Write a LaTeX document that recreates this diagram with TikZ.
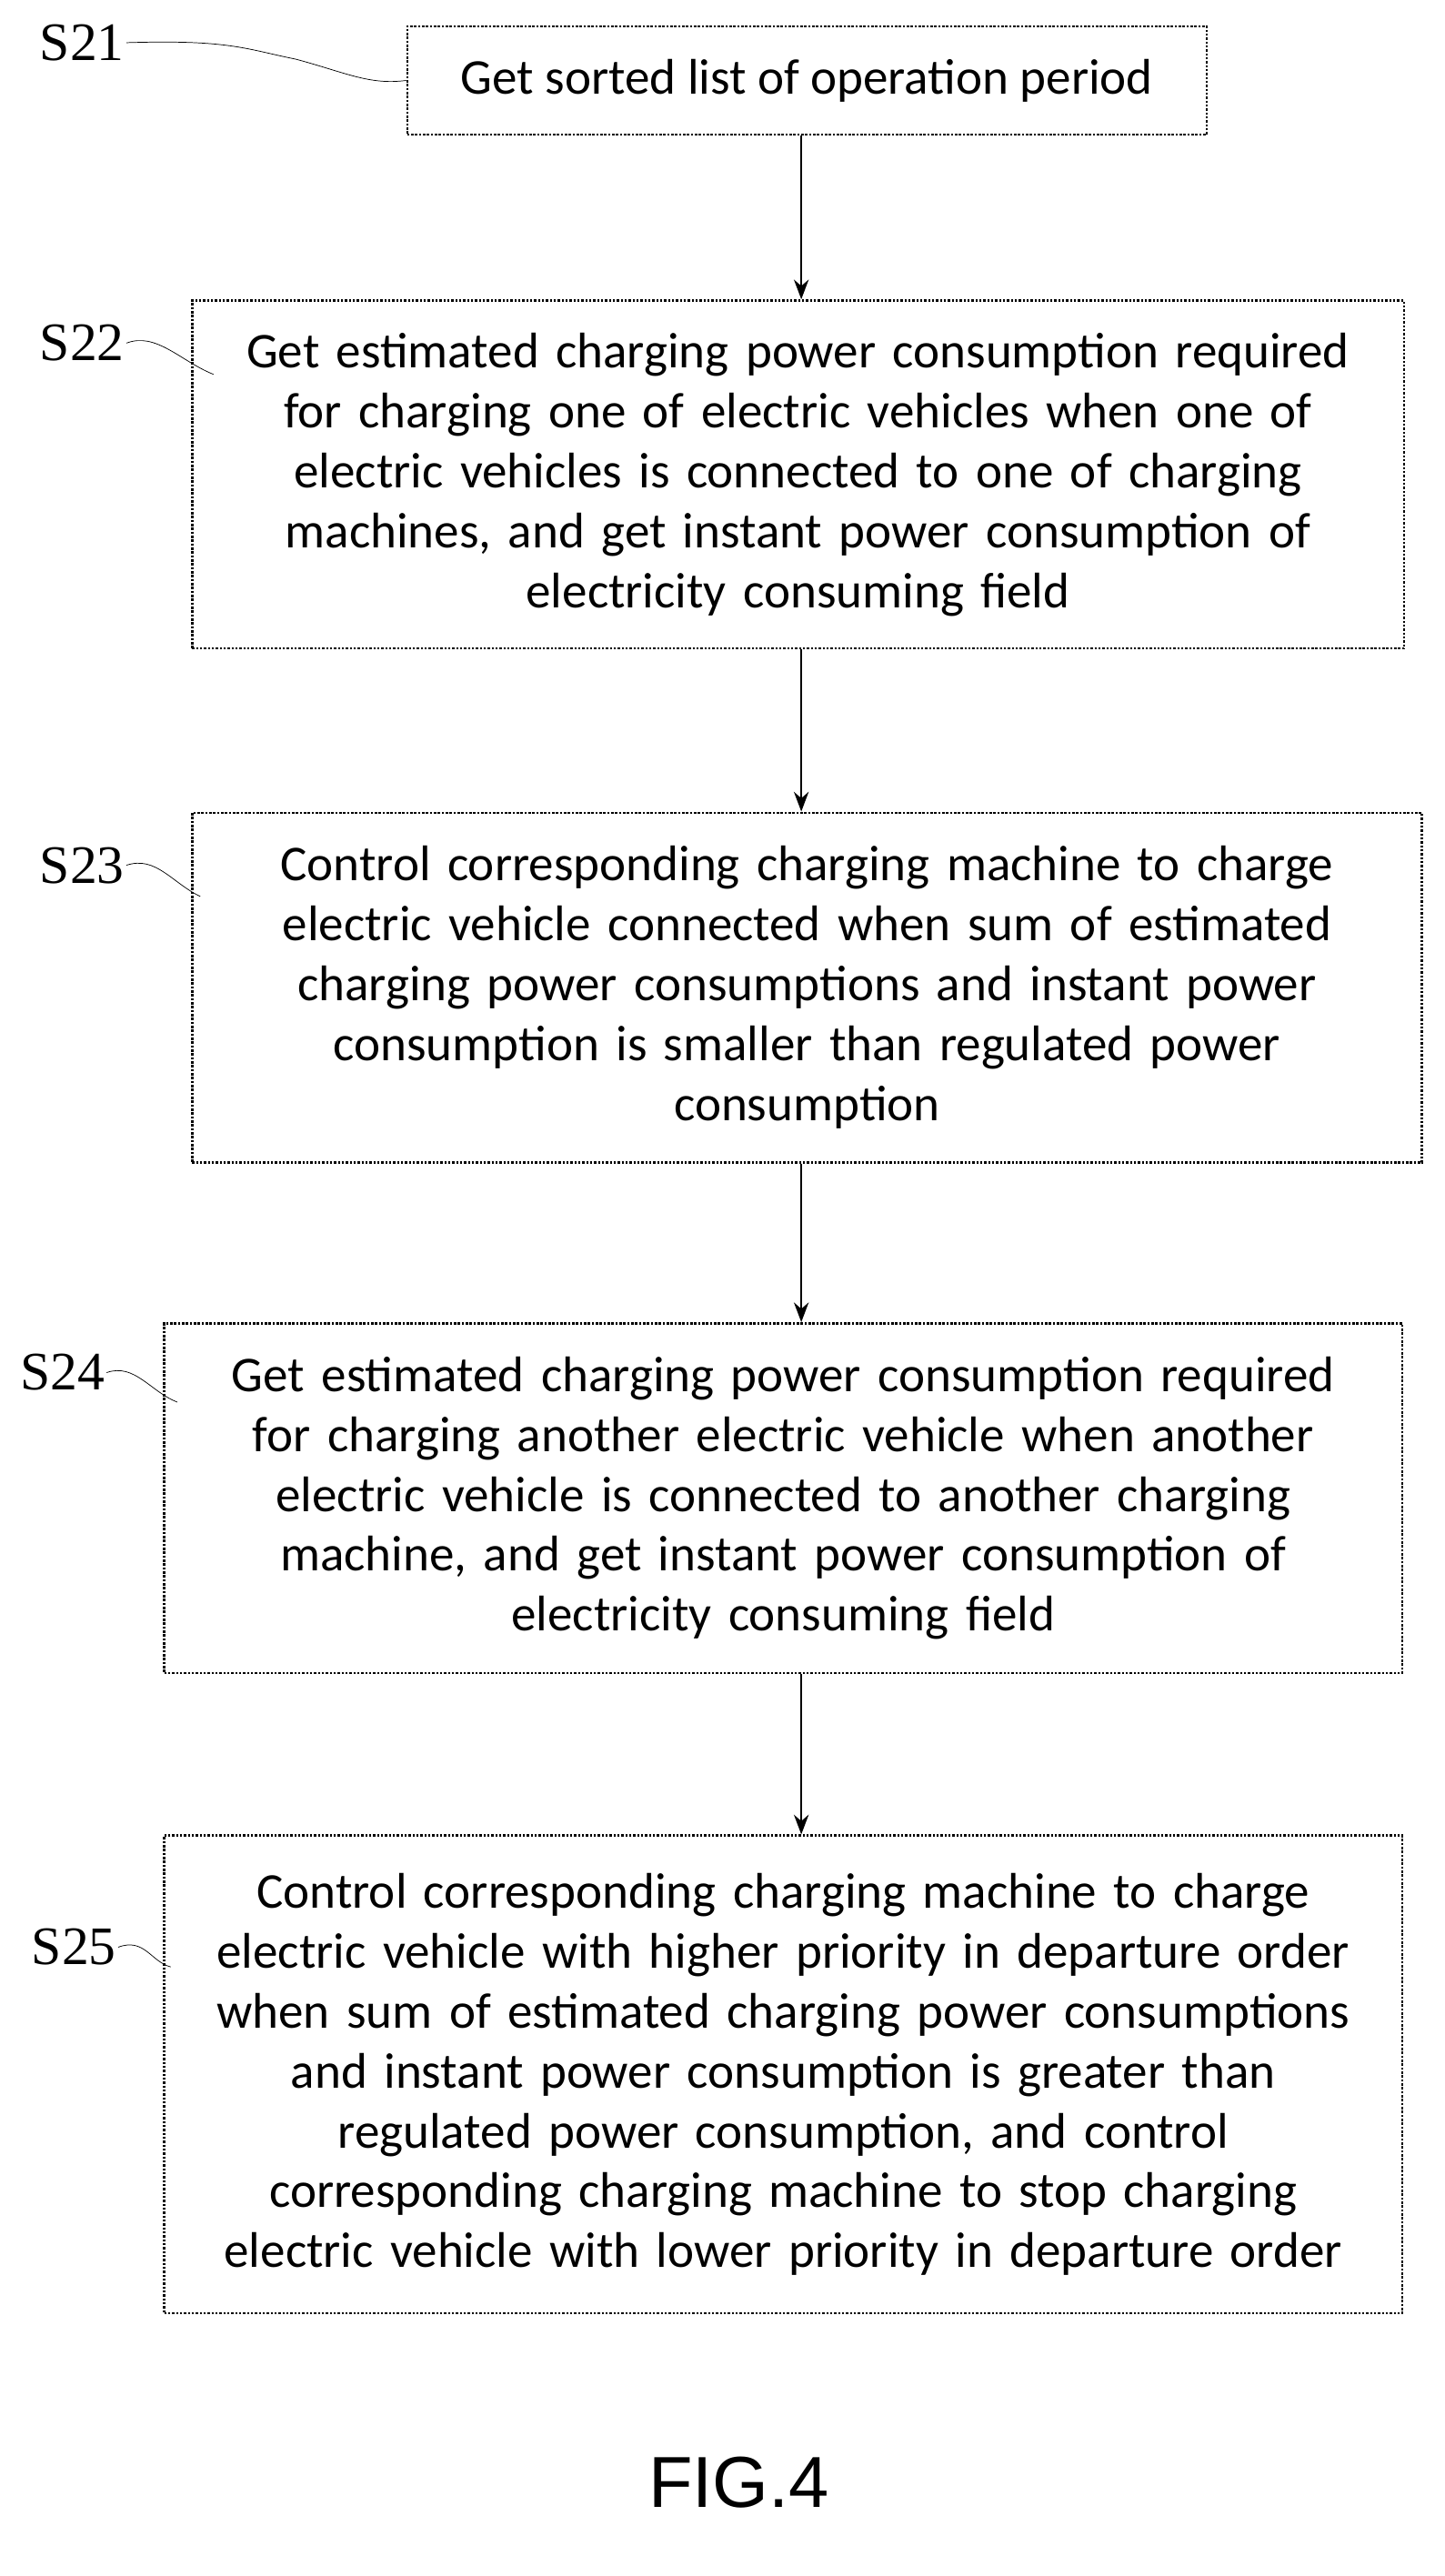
\documentclass[tikz,border=0pt]{standalone}
\usepackage{fontspec}
\setmainfont{Carlito}
\newfontfamily\labelfont{Liberation Serif}
\newfontfamily\figfont{Liberation Sans}
\usetikzlibrary{arrows.meta,positioning}

\begin{document}
\begin{tikzpicture}[x=1pt,y=-1pt,semithick]
	  \tikzstyle{stepbox}=[draw=black,densely dotted,line width=1.4pt,rectangle,align=center,inner sep=0pt,font=\fontsize{30.5}{36.5}\selectfont]
	  \tikzstyle{tag}=[font=\labelfont\fontsize{33}{33}\selectfont,inner sep=1pt]
	  \tikzstyle{flow}=[-{Stealth[length=12pt,width=9pt]},line width=1.2pt]
	  \tikzstyle{lead}=[thin]

	  \useasboundingbox (0,0) rectangle (880,1569);

	  \node[stepbox,minimum width=487,minimum height=66] (A) at (491.5,49) {Get sorted list of operation period};
	  \node[stepbox,minimum width=738,minimum height=212,text width=730] (B) at (486,289) {Get estimated charging power consumption required\\for charging one of electric vehicles when one of\\electric vehicles is connected to one of charging\\machines, and get instant power consumption of\\electricity consuming field};
	  \node[stepbox,minimum width=749,minimum height=213,text width=740] (C) at (491.5,601.5) {Control corresponding charging machine to charge\\electric vehicle connected when sum of estimated\\charging power consumptions and instant power\\consumption is smaller than regulated power\\consumption};
	  \node[stepbox,minimum width=754,minimum height=213,text width=745] (D) at (477,912.5) {Get estimated charging power consumption required\\for charging another electric vehicle when another\\electric vehicle is connected to another charging\\machine, and get instant power consumption of\\electricity consuming field};
	  \node[stepbox,minimum width=754,minimum height=291,text width=750] (E) at (477,1263.5) {Control corresponding charging machine to charge\\electric vehicle with higher priority in departure order\\when sum of estimated charging power consumptions\\and instant power consumption is greater than\\regulated power consumption, and control\\corresponding charging machine to stop charging\\electric vehicle with lower priority in departure order};

	  \draw[flow] (A.south -| 488,0) -- (B.north -| 488,0);
	  \draw[flow] (B.south -| 488,0) -- (C.north -| 488,0);
	  \draw[flow] (C.south -| 488,0) -- (D.north -| 488,0);
	  \draw[flow] (D.south -| 488,0) -- (E.north -| 488,0);

	  \node[tag] (T1) at (50,26) {S21};
	  \node[tag] (T2) at (50,209) {S22};
	  \node[tag] (T3) at (50,527) {S23};
	  \node[tag] (T4) at (38,836) {S24};
	  \node[tag] (T5) at (45,1186) {S25};

	  \draw[lead] (T1.east) .. controls (140,24) and (150,30) .. (180,36) .. controls (210,44) and (225,52) .. (A.west);
	  \draw[lead] (T2.east) .. controls (95,202) and (110,220) .. (130,228);
	  \draw[lead] (T3.east) .. controls (95,521) and (105,538) .. (122,546);
	  \draw[lead] (T4.east) .. controls (82,830) and (92,848) .. (108,854);
	  \draw[lead] (T5.east) .. controls (88,1180) and (92,1195) .. (104,1198);

	  \node[font=\figfont\fontsize{44}{44}\selectfont] (F) at (450,1512) {FIG.4};
	\end{tikzpicture}
\end{document}
